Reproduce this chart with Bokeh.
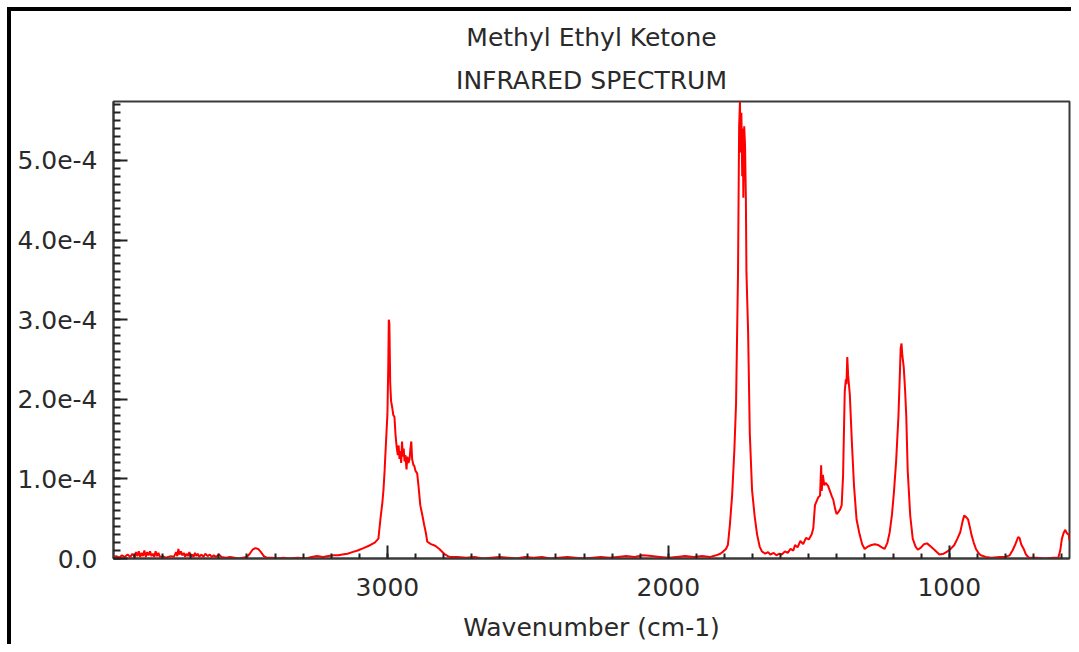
import numpy as np
from bokeh.plotting import figure
from bokeh.models import Range1d, FixedTicker, CustomJSTickFormatter, Title
from bokeh.embed import file_html
from bokeh.resources import INLINE

# ---- data ----
title_line1 = "Methyl Ethyl Ketone"
title_line2 = "INFRARED SPECTRUM"
x_label = "Wavenumber (cm-1)"

x_major_ticks = [1000, 2000, 3000]
x_minor_ticks = list(range(600, 4000, 100))
y_major_ticks = [0.0, 1e-4, 2e-4, 3e-4, 4e-4, 5e-4]
y_minor_ticks = [i * 1e-5 for i in range(0, 58)]

wavenumber = [
    3975, 3965, 3955, 3945, 3935, 3925, 3915, 3908, 3900, 3895, 3890, 3885, 3880, 3875, 3870,
    3865, 3860, 3855, 3850, 3845, 3840, 3835, 3830, 3825, 3820, 3815, 3810, 3800, 3790, 3780,
    3770, 3760, 3752, 3748, 3744, 3740, 3735, 3730, 3725, 3720, 3715, 3710, 3705, 3700, 3695,
    3690, 3685, 3680, 3675, 3670, 3662, 3655, 3648, 3640, 3632, 3625, 3618, 3610, 3600, 3590,
    3575, 3560, 3545, 3530, 3515, 3500, 3490, 3480, 3470, 3460, 3450, 3440, 3430, 3410, 3390,
    3370, 3350, 3320, 3290, 3270, 3250, 3230, 3210, 3190, 3175, 3160, 3142, 3125, 3106, 3085,
    3060, 3045, 3032, 3025, 3018, 3014, 3010, 3007, 3003, 3000, 2997, 2995, 2993, 2990, 2987,
    2983, 2979, 2975, 2971, 2967, 2963, 2960, 2957, 2954, 2951, 2948, 2945, 2942, 2939, 2936,
    2932, 2929, 2925, 2921, 2918, 2915, 2912, 2908, 2904, 2900, 2894, 2889, 2883, 2876, 2869,
    2863, 2858, 2845, 2830, 2815, 2798, 2785, 2777, 2750, 2720, 2690, 2660, 2630, 2600, 2570,
    2540, 2510, 2480, 2450, 2420, 2390, 2360, 2330, 2300, 2270, 2240, 2210, 2180, 2150, 2120,
    2090, 2060, 2030, 2000, 1970, 1940, 1910, 1880, 1850, 1830, 1815, 1804, 1795, 1788, 1781,
    1773, 1765, 1759, 1752, 1748, 1745, 1743, 1740, 1737, 1735, 1733, 1730, 1727, 1724, 1722,
    1716, 1710, 1702, 1693, 1684, 1675, 1667, 1655, 1645, 1637, 1625, 1615, 1605, 1596, 1585,
    1575, 1565, 1555, 1549, 1540, 1530, 1520, 1510, 1500, 1490, 1484, 1478, 1472, 1466, 1460,
    1456, 1454, 1450, 1445, 1440, 1431, 1425, 1418, 1413, 1406, 1401, 1395, 1388, 1383, 1378,
    1372, 1368, 1366, 1363, 1360, 1354, 1346, 1339, 1330, 1319, 1310, 1301, 1290, 1277, 1265,
    1254, 1240, 1230, 1220, 1212, 1204, 1197, 1189, 1181, 1176, 1173, 1170, 1167, 1162, 1157,
    1153, 1148, 1139, 1130, 1120, 1112, 1100, 1090, 1079, 1066, 1053, 1035, 1020, 1006, 995,
    982, 971, 961, 953, 947, 940, 933, 927, 921, 913, 905, 896, 888, 870, 850,
    820, 800, 785, 775, 767, 760, 755, 750, 744, 735, 727, 717, 690, 660, 630,
    612, 605, 599, 593, 587, 582, 575, 572,
]

# absorbance in units of 1e-4
absorbance_e4 = [
    0.02, 0.03, 0.01, 0.04, 0.02, 0.05, 0.02, 0.06, 0.02, 0.08, 0.03, 0.09, 0.02, 0.07, 0.03,
    0.10, 0.02, 0.08, 0.04, 0.09, 0.03, 0.06, 0.02, 0.09, 0.03, 0.07, 0.02, 0.03, 0.01, 0.02,
    0.03, 0.02, 0.08, 0.03, 0.12, 0.05, 0.09, 0.04, 0.07, 0.02, 0.06, 0.03, 0.08, 0.02, 0.05,
    0.02, 0.07, 0.03, 0.06, 0.02, 0.05, 0.02, 0.06, 0.03, 0.05, 0.02, 0.04, 0.02, 0.05, 0.02,
    0.01, 0.02, 0.01, 0.00, 0.01, 0.02, 0.06, 0.11, 0.13, 0.12, 0.08, 0.03, 0.01, 0.01, 0.00,
    0.01, 0.00, 0.01, 0.00, 0.02, 0.03, 0.02, 0.03, 0.04, 0.04, 0.05, 0.06, 0.08, 0.10, 0.13,
    0.17, 0.20, 0.25, 0.49, 0.70, 0.86, 1.10, 1.32, 1.60, 1.81, 2.40, 3.00, 2.95, 2.20, 1.98,
    1.90, 1.80, 1.78, 1.55, 1.40, 1.30, 1.42, 1.25, 1.35, 1.20, 1.47, 1.28, 1.38, 1.22, 1.30,
    1.12, 1.28, 1.20, 1.25, 1.38, 1.47, 1.25, 1.18, 1.16, 1.10, 1.07, 0.90, 0.67, 0.55, 0.42,
    0.32, 0.21, 0.18, 0.16, 0.12, 0.06, 0.03, 0.02, 0.02, 0.01, 0.02, 0.00, 0.01, 0.02, 0.01,
    0.00, 0.02, 0.01, 0.02, 0.00, 0.01, 0.02, 0.01, 0.00, 0.01, 0.02, 0.01, 0.02, 0.03, 0.02,
    0.04, 0.03, 0.02, 0.01, 0.02, 0.03, 0.02, 0.03, 0.02, 0.04, 0.06, 0.09, 0.12, 0.17, 0.42,
    0.79, 1.36, 1.94, 3.57, 5.43, 5.74, 5.10, 5.60, 4.80, 5.40, 4.53, 5.43, 5.20, 4.53, 3.60,
    2.84, 1.57, 0.86, 0.54, 0.30, 0.15, 0.09, 0.06, 0.08, 0.05, 0.07, 0.04, 0.06, 0.05, 0.09,
    0.07, 0.12, 0.10, 0.17, 0.14, 0.22, 0.18, 0.26, 0.24, 0.30, 0.38, 0.67, 0.72, 0.77, 0.79,
    1.17, 0.85, 1.05, 0.92, 0.95, 0.91, 0.85, 0.78, 0.74, 0.62, 0.56, 0.58, 0.62, 0.67, 1.04,
    2.10, 2.25, 2.19, 2.53, 2.30, 2.06, 1.41, 0.91, 0.49, 0.30, 0.18, 0.12, 0.15, 0.17, 0.18,
    0.17, 0.14, 0.12, 0.20, 0.33, 0.55, 0.83, 1.23, 1.78, 2.30, 2.64, 2.70, 2.55, 2.40, 2.10,
    1.78, 1.11, 0.54, 0.25, 0.15, 0.11, 0.14, 0.18, 0.19, 0.15, 0.11, 0.05, 0.06, 0.09, 0.12,
    0.17, 0.25, 0.33, 0.46, 0.54, 0.52, 0.49, 0.40, 0.30, 0.20, 0.12, 0.07, 0.04, 0.02, 0.01,
    0.02, 0.02, 0.04, 0.10, 0.16, 0.22, 0.27, 0.26, 0.18, 0.12, 0.05, 0.01, 0.01, 0.00, 0.01,
    0.01, 0.10, 0.25, 0.32, 0.36, 0.32, 0.30, 0.23,
]

x = np.array(wavenumber, dtype=float)
y = np.array(absorbance_e4, dtype=float) * 1e-4

FONT = "DejaVu Sans"
TXT = "#2a2a2a"

p = figure(
    width=1071, height=644,
    output_backend="svg", toolbar_location=None,
    x_range=Range1d(3975, 572), y_range=Range1d(0, 5.74e-4),
    min_border_left=113, min_border_right=2, min_border_top=101, min_border_bottom=84,
    background_fill_color="white", border_fill_color=None,
)
# thick black frame at the top and left edges, as in the original picture
p.styles = {"box-shadow": "inset 7px 7px 0 0 white, inset 11px 11px 0 0 black",
            "background-color": "white"}

p.title.visible = False
p.add_layout(Title(text=title_line2, align="center", text_font=FONT, text_font_size="25px",
                   text_font_style="normal", text_color=TXT, standoff=14), "above")
p.add_layout(Title(text=title_line1, align="center", text_font=FONT, text_font_size="25px",
                   text_font_style="normal", text_color=TXT, standoff=9), "above")

p.line(x, y, line_color="#ff0000", line_width=2)

p.grid.visible = False
p.outline_line_color = "#3a3a3a"
p.outline_line_width = 2

p.xaxis.ticker = FixedTicker(ticks=x_major_ticks, minor_ticks=x_minor_ticks)
p.yaxis.ticker = FixedTicker(ticks=y_major_ticks, minor_ticks=y_minor_ticks)
p.yaxis.formatter = CustomJSTickFormatter(
    code="if (Math.abs(tick) < 1e-12) { return '0.0'; } return (tick*1e4).toFixed(1) + 'e-4';")

for ax in (p.xaxis[0], p.yaxis[0]):
    ax.axis_line_color = "#3a3a3a"
    ax.axis_line_width = 2
    ax.major_tick_line_color = "#222222"
    ax.minor_tick_line_color = "#222222"
    ax.major_tick_line_width = 2
    ax.minor_tick_line_width = 2
    ax.major_tick_out = 0
    ax.minor_tick_out = 0
    ax.major_label_text_font = FONT
    ax.major_label_text_font_size = "25px"
    ax.major_label_text_color = TXT

p.xaxis.major_tick_in = 13
p.xaxis.minor_tick_in = 5
p.yaxis.major_tick_in = 14
p.yaxis.minor_tick_in = 7
p.yaxis.major_label_standoff = 16
p.xaxis.major_label_standoff = 19

p.xaxis.axis_label = x_label
p.xaxis.axis_label_text_font = FONT
p.xaxis.axis_label_text_font_size = "25px"
p.xaxis.axis_label_text_font_style = "normal"
p.xaxis.axis_label_text_color = TXT
p.xaxis.axis_label_standoff = 14

open("out.html", "w").write(file_html(p, INLINE))
